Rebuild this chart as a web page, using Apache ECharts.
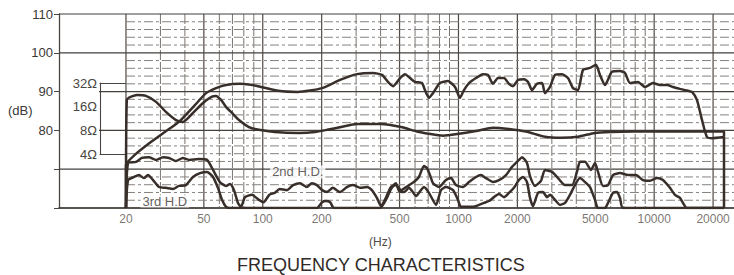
<!DOCTYPE html>
<html><head><meta charset="utf-8">
<script src="https://cdn.jsdelivr.net/npm/echarts@6/dist/echarts.min.js"></script>
<style>html,body{margin:0;padding:0;background:#fff;}#c{width:734px;height:275px;}</style>
</head><body><div id="c"></div>
<script>
// ---- data ----
const freqTicks = [20, 50, 100, 200, 500, 1000, 2000, 5000, 10000, 20000];
const gridFreqs = [20,30,40,50,60,70,80,90,100,200,300,400,500,600,700,800,900,1000,2000,3000,4000,5000,6000,7000,8000,9000,10000,20000];
const dBLabels = [80, 90, 100, 110];
const ohmTicks = [4, 8, 16, 32];
const annotations = [
  {name: '2nd H.D.', value: [151, 69.3]},
  {name: '3rd H.D', value: [31.6, 61.8]}
];
// frequency response [Hz, dB]
const response = [[20,60],[20,71.1],[22.2,73.7],[26.5,76.8],[31.6,79.6],[37.3,82.2],[45,86.5],[51.3,89.6],[57.7,90.9],[64.9,91.7],[76.5,92.0],[94.5,91.4],[120,90.2],[151,89.9],[201,90.9],[248,93.0],[303,94.5],[366,94.8],[407,94.3],[436,92.5],[463,91.4],[503,93.5],[533,94.5],[565,93.5],[600,92.5],[651,92.2],[674,90.4],[707,88.4],[741,89.6],[804,92.2],[884,92.7],[960,91.2],[1018,88.4],[1067,90.4],[1132,92.2],[1229,93.5],[1334,94.5],[1415,94.3],[1501,92.0],[1592,93.5],[1708,93.5],[1811,92.0],[1899,91.4],[2014,93.0],[2162,93.2],[2266,92.5],[2374,90.4],[2520,92.0],[2673,92.2],[2768,89.6],[2936,91.2],[3114,94.3],[3381,94.5],[3628,93.5],[3848,90.9],[4081,90.4],[4328,95.6],[4699,96.1],[5043,96.9],[5284,94.3],[5605,91.7],[6088,95.1],[6690,95.3],[7094,94.8],[7524,92.2],[8266,92.5],[8974,91.2],[9861,92.2],[10710,91.7],[11630,91.7],[12480,91.2],[13550,90.7],[14880,90.2],[15600,89.9],[16550,87.8],[17550,82.7],[18610,78.3],[19740,78.0],[22740,78.3],[22740,60]];
// impedance [Hz, ohm]
const impedance = [[20,0.842],[20.2,19.6],[22.8,22.6],[25.3,22.0],[28.5,18.5],[32.0,13.8],[36.0,10.9],[39.1,10.3],[44.0,13.4],[49.5,17.9],[54.4,21.3],[57.7,22.0],[61.2,19.6],[64.9,16.0],[69.6,13.4],[75.6,10.9],[85.0,8.9],[95.6,8.2],[115,7.7],[153,7.5],[185,7.7],[213,8.2],[251,8.9],[303,9.7],[402,9.7],[509,8.9],[614,7.8],[707,7.3],[833,6.9],[1006,7.3],[1229,7.9],[1501,8.7],[1811,8.4],[2213,7.8],[2768,6.7],[3342,6.5],[4081,6.7],[4985,7.5],[6017,7.7],[7795,7.8],[22740,7.8],[22740,6.7]];
// 2nd harmonic distortion [Hz, dB]
const hd2 = [[20,60],[20.5,71.6],[22.5,71.9],[24.1,72.9],[26.2,73.1],[28.5,72.4],[30.9,73.1],[33.2,72.9],[36.0,72.1],[39.1,72.9],[42.0,72.4],[47.2,72.6],[51.9,72.4],[55.7,69.8],[60.4,66.7],[64.9,65.7],[68.0,66.2],[71.3,64.6],[74.7,61.3],[77.4,60.3],[81.1,62.8],[88.1,63.4],[95.6,62.1],[101,61.5],[108,63.4],[115,63.9],[122,64.9],[133,64.6],[143,65.9],[155,66.4],[168,65.4],[178,66.4],[189,65.9],[201,64.6],[213,64.1],[228,65.2],[248,64.1],[269,65.4],[289,65.9],[314,65.2],[341,65.4],[361,64.6],[383,62.6],[402,60.5],[421,62.1],[452,65.4],[479,65.9],[509,64.6],[533,65.2],[559,65.9],[592,66.7],[628,68.0],[666,70.8],[690,70.3],[715,68.5],[741,66.4],[795,65.4],[863,67.2],[916,67.7],[971,65.9],[1054,65.4],[1132,66.7],[1229,68.0],[1303,68.5],[1382,67.7],[1501,66.7],[1611,67.2],[1749,68.5],[1877,70.6],[2038,72.4],[2112,73.1],[2239,71.6],[2320,68.2],[2459,65.7],[2640,67.0],[2768,69.8],[3006,69.3],[3226,67.7],[3502,65.9],[3802,65.9],[4031,69.3],[4177,71.9],[4431,71.9],[4756,69.8],[4985,71.6],[5164,69.3],[5476,65.7],[5808,65.9],[6160,68.5],[6690,69.0],[7351,68.5],[8072,68.5],[8766,67.2],[9518,67.0],[10340,67.7],[11090,67.2],[12040,65.2],[12770,63.4],[13550,62.6],[14040,61.3],[14710,60.0],[22740,60]];
// 3rd harmonic distortion [Hz, dB]
const hd3 = [[20,60],[20.5,67.2],[22.0,68.0],[23.3,68.5],[24.7,67.7],[25.9,68.5],[27.5,67.2],[29.5,65.4],[32.0,65.2],[34.8,64.9],[37.3,65.7],[40.5,65.9],[44.0,68.0],[47.8,69.0],[51.9,69.3],[55.7,68.0],[59.0,65.2],[61.9,62.1],[64.9,60.3],[68.0,60],[189,60],[201,61.5],[210,61.8],[221,61.5],[231,60],[397,60],[431,62.6],[452,64.9],[479,66.4],[497,64.4],[527,64.1],[559,65.2],[579,64.4],[607,63.1],[643,64.6],[666,65.4],[707,63.9],[768,60.8],[814,64.6],[863,65.4],[938,64.6],[994,62.1],[1030,60.3],[1186,60.3],[1273,60.8],[1350,61.3],[1432,61.8],[1519,62.8],[1611,63.6],[1708,62.8],[1811,63.9],[1921,65.2],[2038,67.2],[2137,68.0],[2239,66.7],[2320,62.6],[2402,60.5],[2549,63.9],[2703,64.1],[2834,62.8],[2936,63.4],[3114,62.1],[3302,60.8],[3502,61.3],[3714,63.4],[3938,65.9],[4177,67.7],[4431,66.7],[4699,65.4],[4985,62.1],[5164,60],[5605,60],[5808,61.3],[6160,63.9],[6457,64.1],[6690,62.6],[6930,60],[22740,60]];

// ---- styles ----
const INK = '#382f2b';
const FONT = 'Liberation Sans';
const majorFreqs = [20, 50, 100, 200, 500, 1000, 2000, 5000, 10000, 20000];
const BRACKET_OFFSET = 40;

function renderGrid(params, api) {
  const cs = params.coordSys;
  const left = cs.x;
  const children = [];
  gridFreqs.forEach(f => {
    const p1 = api.coord([f, 110]), p2 = api.coord([f, 60]);
    const major = majorFreqs.indexOf(f) >= 0;
    children.push({type: 'line', shape: {x1: p1[0], y1: p1[1], x2: p2[0], y2: p2[1]},
      style: {stroke: major ? '#4f4945' : '#7a7571', lineWidth: major ? 1.2 : 1, lineDash: major ? null : [10, 2]}});
  });
  for (let d = 60; d <= 110; d += 2) {
    const p = api.coord([20, d]);
    const pr = api.coord([25580, d]);
    let x1 = p[0];
    const ten = d % 10 === 0;
    if (d === 110 || d === 100 || d === 70 || d === 60) x1 = left;
    else if (d === 90 || d === 80) x1 = left + BRACKET_OFFSET;
    children.push({type: 'line', shape: {x1: x1, y1: p[1], x2: pr[0], y2: p[1]},
      style: {stroke: ten ? '#45403c' : '#86817d', lineWidth: ten ? 1.2 : 1, lineDash: ten ? null : [9, 3, 3, 3]}});
  }
  return {type: 'group', children: children};
}

const chart = echarts.init(document.getElementById('c'), null, {renderer: 'svg'});
const curve = (name, data, yi) => ({
  type: 'line', name: name, data: data, xAxisIndex: 0, yAxisIndex: yi,
  symbol: 'none', smooth: 0.2, lineStyle: {color: INK, width: 2.5}, z: 5, silent: true
});
chart.setOption({
  animation: false,
  backgroundColor: '#ffffff',
  textStyle: {fontFamily: FONT},
  title: [
    {text: 'FREQUENCY CHARACTERISTICS', left: 237, top: 256, padding: 0,
     textStyle: {fontSize: 18, fontWeight: 'normal', color: '#2f2a27', fontFamily: FONT}},
    {text: '(Hz)', left: 369, top: 236, padding: 0,
     textStyle: {fontSize: 12, fontWeight: 'normal', color: '#4f4a46', fontFamily: FONT}},
    {text: '(dB)', left: 8, top: 104, padding: 0,
     textStyle: {fontSize: 13, fontWeight: 'normal', color: '#3c3835', fontFamily: FONT}}
  ],
  grid: [
    {left: 59, top: 14, width: 675, height: 194, outerBoundsMode: 'none', containLabel: false},
    {left: 100, top: 83, width: 26, height: 71.5, outerBoundsMode: 'none', containLabel: false}
  ],
  xAxis: [
    {type: 'log', gridIndex: 0, min: 9.095, max: 25580, logBase: 10,
     axisLine: {show: true, lineStyle: {color: '#3a3430', width: 1.6}},
     axisTick: {show: false}, axisLabel: {show: false}, splitLine: {show: false}},
    {type: 'value', gridIndex: 1, min: 0, max: 1, position: 'bottom',
     axisLine: {show: true, lineStyle: {color: '#4a4541', width: 1.1}},
     axisTick: {show: false}, axisLabel: {show: false}, splitLine: {show: false}},
    {type: 'value', gridIndex: 1, min: 0, max: 1, position: 'top',
     axisLine: {show: true, lineStyle: {color: '#4a4541', width: 1.1}},
     axisTick: {show: false}, axisLabel: {show: false}, splitLine: {show: false}}
  ],
  yAxis: [
    {type: 'value', gridIndex: 0, min: 60, max: 110, interval: 10, position: 'left',
     axisLine: {show: true, lineStyle: {color: '#4a4541', width: 1.3}},
     axisTick: {show: true, length: 5, lineStyle: {color: '#4a4541'}},
     axisLabel: {margin: 6, fontSize: 13, color: '#3c3835', fontFamily: FONT,
       formatter: v => dBLabels.indexOf(v) >= 0 ? String(v) : ''},
     splitLine: {show: false}},
    {type: 'log', logBase: 2, gridIndex: 0, min: 0.842, max: 239, show: false},
    {type: 'log', logBase: 2, gridIndex: 1, min: 4, max: 32, position: 'left',
     axisLine: {show: true, lineStyle: {color: '#4a4541', width: 1.1}},
     axisTick: {show: false},
     axisLabel: {margin: 3, fontSize: 13, color: '#4a4541', fontFamily: FONT,
       formatter: v => ohmTicks.indexOf(Math.round(v)) >= 0 ? Math.round(v) + 'Ω' : ''},
     splitLine: {show: false}}
  ],
  series: [
    {type: 'custom', name: 'grid', xAxisIndex: 0, yAxisIndex: 0, data: [[20, 60]],
     renderItem: renderGrid, silent: true, z: 1},
    curve('Frequency response', response, 0),
    curve('Impedance', impedance, 1),
    curve('2nd H.D.', hd2, 0),
    curve('3rd H.D.', hd3, 0),
    {type: 'scatter', name: 'freq labels', xAxisIndex: 0, yAxisIndex: 0,
     data: freqTicks.map(f => [f, 60]), symbolSize: 1, itemStyle: {color: 'rgba(0,0,0,0)'},
     silent: true, z: 6,
     label: {show: true, position: 'bottom', distance: 4, fontSize: 12, color: '#57524e', fontFamily: FONT,
       formatter: p => String(p.value[0])}},
    {type: 'scatter', name: 'annotations', xAxisIndex: 0, yAxisIndex: 0,
     data: annotations, symbolSize: 1, itemStyle: {color: 'rgba(0,0,0,0)'}, silent: true, z: 4,
     label: {show: true, position: 'inside', formatter: '{b}', fontSize: 13, color: '#3c3532', fontFamily: FONT,
       backgroundColor: '#ffffff', padding: [0, 2]}}
  ]
});
</script></body></html>
